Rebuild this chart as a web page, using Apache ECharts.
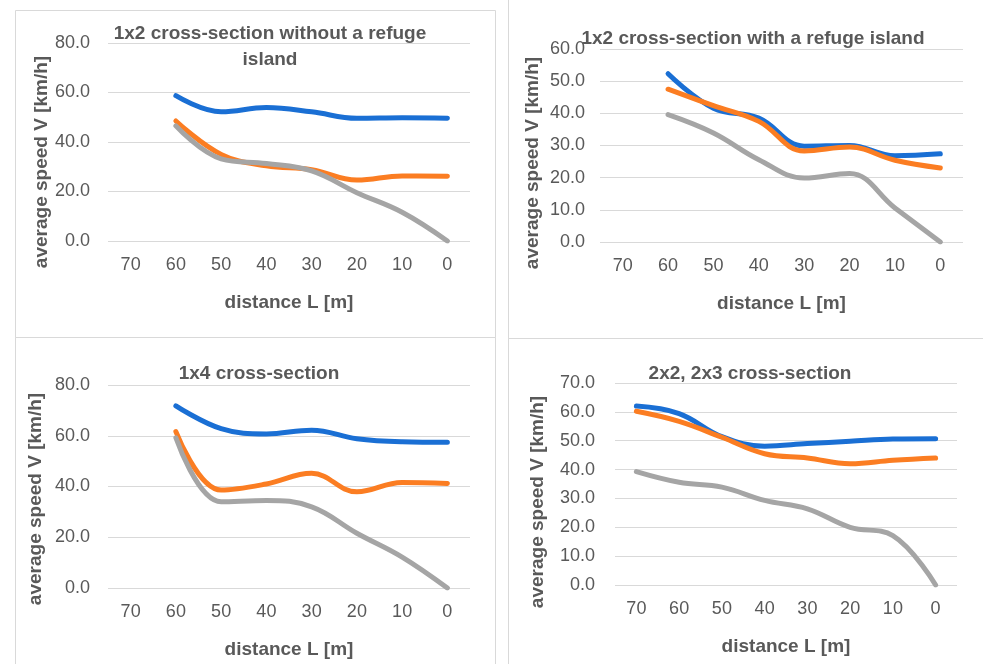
<!DOCTYPE html>
<html>
<head>
<meta charset="utf-8">
<script src="https://cdn.jsdelivr.net/npm/echarts@6/dist/echarts.min.js"></script>
<style>
  html, body { margin: 0; padding: 0; background: #fff; }
  #main { width: 983px; height: 664px; }
</style>
</head>
<body>
<div id="main"></div>
<script>
// distance categories (x axis, reversed: 70 -> 0)
var distances = ['70', '60', '50', '40', '30', '20', '10', '0'];

// 1x2 without refuge island
var p1Blue   = [null, 58.7, 52.2, 53.9, 52.2, 49.6, 49.8, 49.6];
var p1Orange = [null, 48.5, 35.0, 30.4, 28.8, 24.6, 26.3, 26.2];
var p1Gray   = [null, 46.5, 33.2, 31.3, 28.3, 19.5, 11.6, 0.0];

// 1x2 with refuge island
var p2Blue   = [null, 52.3, 41.6, 38.5, 29.8, 30.0, 26.8, 27.4];
var p2Orange = [null, 47.5, 42.4, 37.5, 28.3, 29.5, 25.4, 23.0];
var p2Gray   = [null, 39.6, 33.9, 25.6, 19.9, 21.3, 10.6, 0.0];

// 1x4
var p3Blue   = [null, 71.8, 62.8, 60.7, 62.2, 58.8, 57.6, 57.4];
var p3Orange = [null, 61.6, 38.6, 41.0, 45.2, 37.9, 41.6, 41.2];
var p3Gray   = [null, 59.2, 34.0, 34.5, 32.0, 21.6, 12.2, 0.0];

// 2x2, 2x3
var p4Blue   = [62.0, 59.4, 51.4, 48.1, 49.0, 49.8, 50.6, 50.7];
var p4Orange = [60.2, 56.7, 51.2, 45.5, 44.0, 42.0, 43.2, 44.0];
var p4Gray   = [39.3, 35.6, 33.9, 29.3, 26.4, 20.0, 17.1, 0.0];

var titles = [
  '1x2 cross-section without a refuge\nisland',
  '1x2 cross-section with a refuge island',
  '1x4 cross-section',
  '2x2, 2x3 cross-section'
];
var yMax = [80, 60, 80, 70];
var yStep = [20, 10, 20, 10];

var FONT = 'Liberation Sans';
var TXT = '#595959';
var colors = ['#1a6fd4', '#fb7d22', '#a5a5a5'];

var grids = [
  {left: 108, right: 513, top: 43, bottom: 423},
  {left: 600, right: 20, top: 49, bottom: 422},
  {left: 108, right: 513, top: 385, bottom: 76},
  {left: 615, right: 26, top: 383, bottom: 79}
];
var titlePos = [[265, 16], [748, 21], [254, 356], [745, 356]];
var yNamePos = [[42, 162], [533, 163], [36, 499], [538, 502]];
var labelMargin = [18, 15, 18, 20];

var myChart = echarts.init(document.getElementById('main'));

var xAxes = [], yAxes = [], series = [], titleList = [], graphics = [];
var allData = [
  [p1Blue, p1Orange, p1Gray],
  [p2Blue, p2Orange, p2Gray],
  [p3Blue, p3Orange, p3Gray],
  [p4Blue, p4Orange, p4Gray]
];

for (var i = 0; i < 4; i++) {
  xAxes.push({
    type: 'category', gridIndex: i, data: distances, boundaryGap: true,
    axisLine: {show: false}, axisTick: {show: false},
    axisLabel: {color: TXT, fontFamily: FONT, fontSize: 18, margin: 15},
    name: 'distance L [m]', nameLocation: 'middle', nameGap: 52,
    nameTextStyle: {color: TXT, fontFamily: FONT, fontSize: 19, fontWeight: 'bold'}
  });
  yAxes.push({
    type: 'value', gridIndex: i, min: 0, max: yMax[i], interval: yStep[i],
    axisLine: {show: false}, axisTick: {show: false},
    axisLabel: {color: TXT, fontFamily: FONT, fontSize: 18, margin: labelMargin[i],
      formatter: function (v) { return v.toFixed(1); }},
    splitLine: {lineStyle: {color: '#d9d9d9', width: 1}}
  });
  for (var s = 0; s < 3; s++) {
    series.push({
      type: 'line', xAxisIndex: i, yAxisIndex: i, data: allData[i][s],
      smooth: 0.4, showSymbol: false, connectNulls: false,
      lineStyle: {color: colors[s], width: 5, cap: 'round', join: 'round'},
      itemStyle: {color: colors[s]}
    });
  }
  titleList.push({
    text: titles[i], left: titlePos[i][0], top: titlePos[i][1], textAlign: 'center',
    textStyle: {color: TXT, fontFamily: FONT, fontSize: 19, fontWeight: 'bold', lineHeight: 26}
  });
  graphics.push({
    type: 'text', x: yNamePos[i][0], y: yNamePos[i][1], rotation: Math.PI / 2,
    style: {text: 'average speed V [km/h]', fill: TXT, font: 'bold 19px "' + FONT + '"',
      align: 'center', verticalAlign: 'middle'}
  });
}

// panel borders
var boxes = [[15, 10, 480, 327], [508, -2, 480, 340], [15, 337, 480, 330], [508, 338, 480, 330]];
boxes.forEach(function (b) {
  graphics.push({
    type: 'rect', shape: {x: b[0] + 0.5, y: b[1] + 0.5, width: b[2], height: b[3]},
    style: {fill: null, stroke: '#d9d9d9', lineWidth: 1}, z: -1
  });
});

var option = {
  animation: false,
  backgroundColor: '#fff',
  title: titleList,
  grid: grids,
  xAxis: xAxes,
  yAxis: yAxes,
  series: series,
  graphic: graphics
};
myChart.setOption(option);
</script>
</body>
</html>
